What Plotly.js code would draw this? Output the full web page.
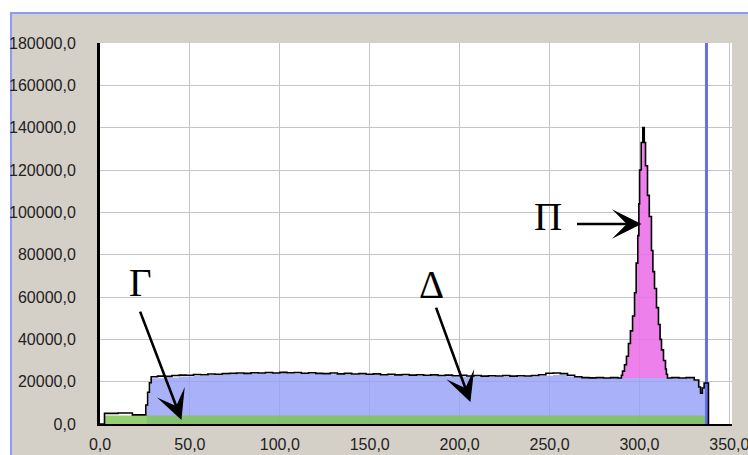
<!DOCTYPE html>
<html>
<head>
<meta charset="utf-8">
<script src="https://cdn.plot.ly/plotly-3.0.1.min.js"></script>
<style>
  html, body { margin: 0; padding: 0; background: #ffffff; width: 748px; height: 455px; overflow: hidden; }
  #frame { position: absolute; left: 10px; top: 12px; width: 738px; height: 443px; background: #d4d0c8;
           border-left: 2px solid #8d9bf2; border-top: 2px solid #8d9bf2; box-sizing: border-box; }
  #chart { position: absolute; left: 0; top: 0; width: 748px; height: 455px; }
</style>
</head>
<body>
<div id="frame"></div>
<div id="chart"></div>
<script>
// ---- data ----
const xTickVals = [0, 50, 100, 150, 200, 250, 300, 350];
const yTickVals = [0, 20000, 40000, 60000, 80000, 100000, 120000, 140000, 160000, 180000];

// total spectrum (black outline), bin left edges / counts
const totalX = [0, 2.5, 10, 18, 25.5, 26.5, 27.5, 28.5, 32, 36, 40, 44, 48, 52, 56, 60, 64, 68, 72, 76, 80, 84, 88, 92, 96, 100,
  104, 108, 112, 116, 120, 124, 128, 132, 136, 140, 144, 148, 152, 156, 160, 164, 168, 172, 176, 180, 184, 188, 192, 196,
  200, 204, 208, 212, 216, 220, 224, 228, 232, 236, 240, 244, 248, 252, 256, 260, 264, 268, 272, 276, 280, 284, 288,
  290.0, 290.6, 291.7, 292.8, 293.9, 295.0, 296.2, 297.3, 298.2, 299.1, 299.7, 300.1, 301.0, 301.9, 302.7,
  303.4, 304.5, 305.5, 306.7, 307.5, 308.4, 309.5, 310.6, 311.5, 312.3, 313.4, 314.5, 315.0, 315.6,
  318, 322, 326, 330.5, 333, 334, 335, 336, 338.4];
const totalY = [0, 5000, 5200, 4300, 9000, 15000, 19500, 22300, 22600, 22500, 22900, 23100, 23000, 23400, 23300, 23600, 23500, 23800, 23900, 24100, 23900, 24200, 24100, 24300, 24100, 24400,
  24200, 24300, 24000, 24200, 23900, 23800, 24100, 23700, 23900, 23600, 23800, 23500, 23700, 23300, 23500, 23200, 23400, 23100, 23300, 23000, 23200, 22900, 23100, 22800,
  23000, 22700, 22900, 22600, 22800, 22700, 22900, 22600, 22800, 22700, 22900, 23300, 24000, 24100, 23800, 23000, 22300, 21900, 21800, 21900, 21700, 21900, 21700,
  23000, 25000, 28000, 32000, 38000, 44000, 51000, 62000, 76000, 89000, 104000, 120000, 133000, 140000, 133000,
  122000, 108000, 98000, 82000, 72000, 64000, 55000, 47000, 40000, 35000, 30000, 26000, 23500, 21700,
  21900, 21700, 21900, 20800, 17500, 14600, 17000, 19400, 0];

// peak component (pink), sitting on the continuum level peakBase
const peakBase = 21700;
const peakX = [288, 290.0, 290.6, 291.7, 292.8, 293.9, 295.0, 296.2, 297.3, 298.2, 299.1, 299.7, 300.1, 301.0,
  303.4, 304.5, 305.5, 306.7, 307.5, 308.4, 309.5, 310.6, 311.5, 312.3, 313.4, 314.5, 315.0, 315.6];
const peakY = [21700, 23000, 25000, 28000, 32000, 38000, 44000, 51000, 62000, 76000, 89000, 104000, 120000, 133000,
  122000, 108000, 98000, 82000, 72000, 64000, 55000, 47000, 40000, 35000, 30000, 26000, 23500, 21700];

// continuum component (blue)
const contX = [26.0, 27.0, 28.0, 36, 44, 52, 60, 68, 76, 84, 92, 100, 108, 116, 124, 132, 140, 148, 156, 164, 172, 180, 188, 196,
  204, 212, 220, 228, 236, 244, 252, 260, 268, 276, 284, 292, 300, 308, 316, 322, 330.5, 333, 334, 335, 336, 337.3];
const contY = [9000, 15000, 21600, 22000, 22400, 22800, 23100, 23300, 23600, 23800, 23900, 24000, 23900, 23700, 23500, 23400, 23300, 23100, 23000, 22900, 22800, 22700, 22600, 22500,
  22400, 22400, 22300, 22300, 22400, 22800, 23200, 22400, 21700, 21600, 21700, 21700, 21700, 21700, 21600, 21600, 20400, 17000, 14200, 16500, 19000, 19000];

// background component (green)
const bgX = [2.5, 338.4];
const bgY = [4000, 4000];

// cursor line
const cursorX = [337.3, 337.3];
const cursorY = [0, 180000];

// labels
const labelText = ['Γ', 'Δ', 'Π'];

const traces = [
  { x: peakX, y: peakX.map(() => peakBase), type: 'scatter', mode: 'lines', line: { shape: 'hv', width: 0 }, hoverinfo: 'skip' },
  { x: peakX, y: peakY, type: 'scatter', mode: 'lines', line: { shape: 'hv', width: 0 },
    fill: 'tonexty', fillcolor: 'rgba(236,110,232,0.88)', hoverinfo: 'skip' },
  { x: contX, y: contY, type: 'scatter', mode: 'lines', line: { shape: 'hv', width: 0 },
    fill: 'tozeroy', fillcolor: 'rgba(150,160,248,0.82)', hoverinfo: 'skip' },
  { x: bgX, y: bgY, type: 'scatter', mode: 'lines', line: { shape: 'hv', width: 0 },
    fill: 'tozeroy', fillcolor: 'rgba(125,198,80,0.82)', hoverinfo: 'skip' },
  { x: cursorX, y: cursorY, type: 'scatter', mode: 'lines', line: { color: 'rgb(100,112,230)', width: 3 }, hoverinfo: 'skip' },
  { x: totalX, y: totalY, type: 'scatter', mode: 'lines', line: { shape: 'hv', color: '#000000', width: 1.6 }, hoverinfo: 'skip' }
];

const arrowBase = { showarrow: true, arrowhead: 3, arrowsize: 1.9, arrowwidth: 2.6, arrowcolor: '#000',
  xref: 'x', yref: 'y', axref: 'x', ayref: 'y', text: '' };
const labelFont = { family: 'Liberation Serif, Times New Roman, serif', size: 39, color: '#000' };
const tickFont = { family: 'Liberation Sans, Arial, sans-serif', size: 16, color: '#222' };

const layout = {
  width: 748, height: 455,
  margin: { l: 100, r: 16, t: 43, b: 31, pad: 0 },
  paper_bgcolor: 'rgba(0,0,0,0)',
  plot_bgcolor: '#ffffff',
  showlegend: false,
  separators: ',.',
  xaxis: {
    range: [0, 351.5], tickvals: xTickVals, tickformat: '.1f',
    showgrid: true, gridcolor: '#c4c4c4', gridwidth: 1, zeroline: false,
    showline: true, linecolor: '#000', linewidth: 2, ticks: '',
    ticklabelstandoff: 5, ticklabeloverflow: 'allow',
    tickfont: tickFont
  },
  yaxis: {
    range: [0, 180000], tickvals: yTickVals, tickformat: '.1f',
    showgrid: true, gridcolor: '#c4c4c4', gridwidth: 1, zeroline: false,
    showline: true, linecolor: '#000', linewidth: 3, ticks: '',
    ticklabelstandoff: 18, ticklabeloverflow: 'allow',
    tickfont: tickFont
  },
  annotations: [
    Object.assign({}, arrowBase, { x: 45.3, y: 1900, ax: 22, ay: 53800 }),
    Object.assign({}, arrowBase, { x: 206, y: 10400, ax: 186.6, ay: 55700 }),
    Object.assign({}, arrowBase, { x: 301.2, y: 94500, ax: 264.5, ay: 94500 }),
    { x: 22.5, y: 67000, xref: 'x', yref: 'y', text: labelText[0], showarrow: false, font: labelFont },
    { x: 184.4, y: 66100, xref: 'x', yref: 'y', text: labelText[1], showarrow: false, font: labelFont },
    { x: 248.9, y: 98200, xref: 'x', yref: 'y', text: labelText[2], showarrow: false, font: labelFont }
  ]
};

Plotly.newPlot('chart', traces, layout, { staticPlot: true, displayModeBar: false });
</script>
</body>
</html>
